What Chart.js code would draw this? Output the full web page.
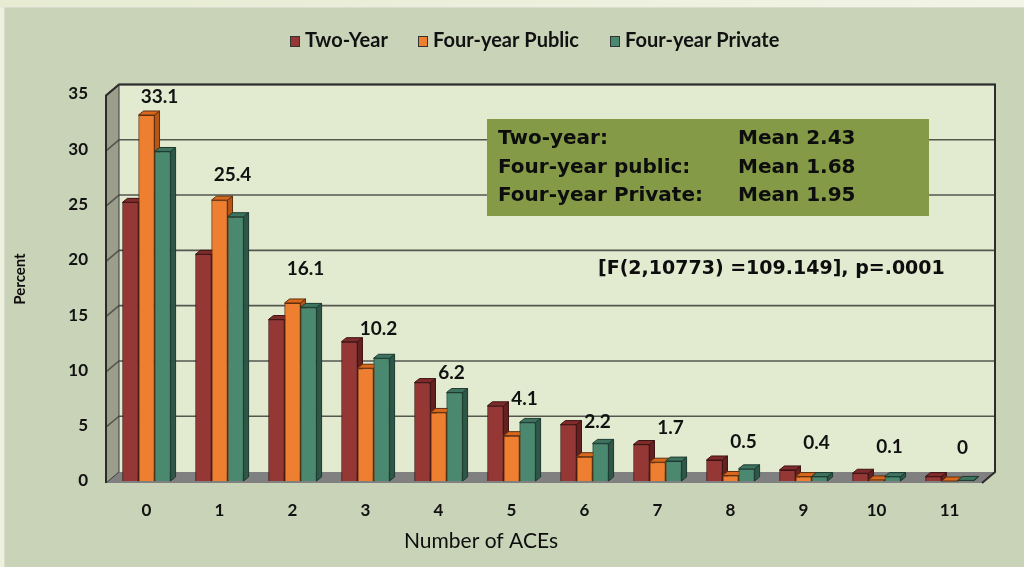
<!DOCTYPE html>
<html>
<head>
<meta charset="utf-8">
<script src="https://cdn.jsdelivr.net/npm/chart.js@4"></script>
<style>
  html, body { margin: 0; padding: 0; background: #edf0dc; }
  #wrap { width: 1024px; height: 567px; }
</style>
</head>
<body>
<div id="wrap"><canvas id="aces" width="1024" height="567"></canvas></div>
<script>
// chart data
const categories = ['0', '1', '2', '3', '4', '5', '6', '7', '8', '9', '10', '11'];
const twoYear = [25.2, 20.5, 14.6, 12.6, 8.9, 6.8, 5.1, 3.3, 1.9, 1.0, 0.7, 0.4];
const fourYearPublic = [33.1, 25.4, 16.1, 10.2, 6.2, 4.1, 2.2, 1.7, 0.5, 0.4, 0.1, 0];
const fourYearPrivate = [29.8, 23.9, 15.7, 11.1, 8.0, 5.3, 3.4, 1.8, 1.1, 0.4, 0.4, 0.05];
const seriesNames = ['Two-Year', 'Four-year Public', 'Four-year Private'];
const yMax = 35;
const yStep = 5;

const statGroups = ['Two-year:', 'Four-year public:', 'Four-year Private:'];
const statMeans = ['Mean 2.43', 'Mean 1.68', 'Mean 1.95'];
const fStat = '[F(2,10773) =109.149], p=.0001';
const xTitle = 'Number of ACEs';
const yTitle = 'Percent';

// colours: front, top, side, outline
const palette = [
  { front: '#953735', top: '#7e2b2a', side: '#652020', line: '#3d1414' },
  { front: '#ef7f30', top: '#d9681c', side: '#b85614', line: '#5e3010' },
  { front: '#4b8870', top: '#3e735f', side: '#2e5748', line: '#1d3a30' }
];

const DX = 13, DY = -11;      // wall depth
const BDX = 5, BDY = -4;      // bar depth

const boldFont = 'Lato, "Open Sans", sans-serif';

const scenePlugin = {
  id: 'scene',
  beforeDraw(chart) {
    const ctx = chart.ctx;
    ctx.save();
    ctx.fillStyle = '#edf0dc';
    ctx.fillRect(0, 0, 1024, 567);
    const g = ctx.createLinearGradient(0, 0, 1024, 0);
    g.addColorStop(0, '#e6ebd2');
    g.addColorStop(1, '#f2f4e6');
    ctx.fillStyle = g;
    ctx.fillRect(0, 0, 1024, 8);
    ctx.fillStyle = '#c9d3b8';
    ctx.fillRect(5, 8, 1019, 559);
    ctx.strokeStyle = '#d9ddd0';
    ctx.lineWidth = 1;
    ctx.strokeRect(4.5, 7.5, 1030, 570);
    ctx.restore();
  },
  beforeDatasetsDraw(chart) {
    const ctx = chart.ctx;
    const ca = chart.chartArea;
    const y = chart.scales.y;
    const fl = ca.left - 4, fr = ca.right - 4;
    const fb = y.getPixelForValue(0) + 2, ft = y.getPixelForValue(yMax) + 1.5;
    const bl = fl + DX, br = fr + DX, bb = fb + DY, bt = ft + DY;
    ctx.save();
    // back wall
    ctx.fillStyle = '#e2ead0';
    ctx.fillRect(bl, bt, br - bl, bb - bt);
    // left wall
    ctx.fillStyle = '#9a9e8b';
    ctx.beginPath();
    ctx.moveTo(fl, ft); ctx.lineTo(bl, bt); ctx.lineTo(bl, bb); ctx.lineTo(fl, fb);
    ctx.closePath(); ctx.fill();
    // floor
    ctx.fillStyle = '#808080';
    ctx.beginPath();
    ctx.moveTo(fl, fb); ctx.lineTo(bl, bb); ctx.lineTo(br, bb); ctx.lineTo(fr, fb);
    ctx.closePath(); ctx.fill();
    // gridlines
    ctx.strokeStyle = '#55574f';
    ctx.lineWidth = 1.6;
    for (let v = yStep; v <= yMax; v += yStep) {
      const yf = y.getPixelForValue(v) + 1.5;
      ctx.beginPath();
      ctx.moveTo(fl, yf); ctx.lineTo(bl, yf + DY); ctx.lineTo(br, yf + DY);
      ctx.stroke();
    }
    // outlines
    ctx.strokeStyle = '#2b2b2b';
    ctx.lineWidth = 2;
    ctx.beginPath();
    ctx.moveTo(fl, fb); ctx.lineTo(fl, ft); ctx.lineTo(bl, bt); ctx.lineTo(br, bt); ctx.lineTo(br, bb);
    ctx.lineTo(fr, fb);
    ctx.stroke();
    ctx.lineWidth = 1;
    ctx.strokeStyle = '#3a3a3a';
    ctx.beginPath();
    ctx.moveTo(fl, fb); ctx.lineTo(bl, bb); ctx.lineTo(bl, bt);
    ctx.stroke();
    ctx.restore();
  },
  afterDatasetsDraw(chart) {
    const ctx = chart.ctx;
    ctx.save();
    // redraw bars left to right per series with their top and side faces
    for (let d = 0; d < 3; d++) {
      const meta = chart.getDatasetMeta(d);
      const c = palette[d];
      meta.data.forEach(bar => {
        const { x, y, base, width } = bar.getProps(['x', 'y', 'base', 'width'], true);
        const l = x - width / 2, r = x + width / 2;
        if (base - y > 0.5) bar.draw(ctx);
        ctx.lineWidth = 1;
        ctx.strokeStyle = c.line;
        ctx.fillStyle = c.side;
        ctx.beginPath();
        ctx.moveTo(r, y); ctx.lineTo(r + BDX, y + BDY); ctx.lineTo(r + BDX, base + BDY); ctx.lineTo(r, base);
        ctx.closePath(); ctx.fill(); ctx.stroke();
        ctx.fillStyle = c.top;
        ctx.beginPath();
        ctx.moveTo(l, y); ctx.lineTo(r, y); ctx.lineTo(r + BDX, y + BDY); ctx.lineTo(l + BDX, y + BDY);
        ctx.closePath(); ctx.fill(); ctx.stroke();
      });
    }

    // value labels for the public series
    const pm = chart.getDatasetMeta(1);
    ctx.fillStyle = '#111';
    ctx.font = 'bold 19px ' + boldFont;
    ctx.textAlign = 'center';
    ctx.textBaseline = 'middle';
    pm.data.forEach((bar, i) => {
      const v = fourYearPublic[i];
      const lift = 33 + Math.min(v, 7) - Math.max(0, v - 10) * 0.95;
      ctx.fillText(String(v), bar.x + 13, bar.y - lift);
    });

    // means box
    ctx.fillStyle = '#849a47';
    ctx.fillRect(487, 119, 442, 97);
    ctx.fillStyle = '#0d0d0d';
    ctx.textAlign = 'left';
    ctx.font = 'bold 20px "DejaVu Sans", sans-serif';
    statGroups.forEach((t, i) => {
      ctx.fillText(t, 498, 139 + i * 28.5);
      ctx.fillText(statMeans[i], 738, 139 + i * 28.5);
    });
    ctx.font = 'bold 19px "DejaVu Sans", sans-serif';
    ctx.fillText(fStat, 598, 269);

    // axis titles
    ctx.font = '21px Lato, "Open Sans", sans-serif';
    ctx.textAlign = 'center';
    ctx.fillText(xTitle, 481, 541);
    ctx.save();
    ctx.translate(20, 279);
    ctx.rotate(-Math.PI / 2);
    ctx.font = 'bold 15px ' + boldFont;
    ctx.fillText(yTitle, 0, 0);
    ctx.restore();

    // legend
    ctx.font = 'bold 20px ' + boldFont;
    const starts = [290, 418, 610];
    seriesNames.forEach((n, i) => {
      ctx.fillStyle = palette[i].front;
      ctx.fillRect(starts[i], 36, 10, 11);
      ctx.strokeStyle = '#333';
      ctx.lineWidth = 1;
      ctx.strokeRect(starts[i] + 0.5, 36.5, 9, 10);
      ctx.fillStyle = '#111';
      ctx.textAlign = 'left';
      ctx.fillText(n, starts[i] + 15, 41);
    });
    ctx.restore();
  }
};

const seriesData = [twoYear, fourYearPublic, fourYearPrivate];

new Chart(document.getElementById('aces'), {
  type: 'bar',
  data: {
    labels: categories,
    datasets: seriesData.map((vals, i) => ({
      label: seriesNames[i],
      data: vals,
      backgroundColor: palette[i].front,
      borderColor: palette[i].line,
      borderWidth: 1,
      categoryPercentage: 0.66,
      barPercentage: 1.0
    }))
  },
  options: {
    responsive: false,
    animation: false,
    events: [],
    layout: { padding: { left: 40, right: 38, top: 94, bottom: 26 } },
    plugins: {
      legend: { display: false },
      tooltip: { enabled: false }
    },
    scales: {
      x: {
        grid: { display: false, drawTicks: false },
        border: { display: false },
        afterFit(scale) { scale.height = 60; },
        ticks: { color: '#111', padding: 19, font: { family: boldFont, weight: 'bold', size: 17 } }
      },
      y: {
        min: 0,
        max: yMax,
        grid: { display: false, drawTicks: false },
        border: { display: false },
        afterFit(scale) { scale.width = 70; },
        ticks: { stepSize: yStep, color: '#111', padding: 22, font: { family: boldFont, weight: 'bold', size: 17 } }
      }
    }
  },
  plugins: [scenePlugin]
});
</script>
</body>
</html>
